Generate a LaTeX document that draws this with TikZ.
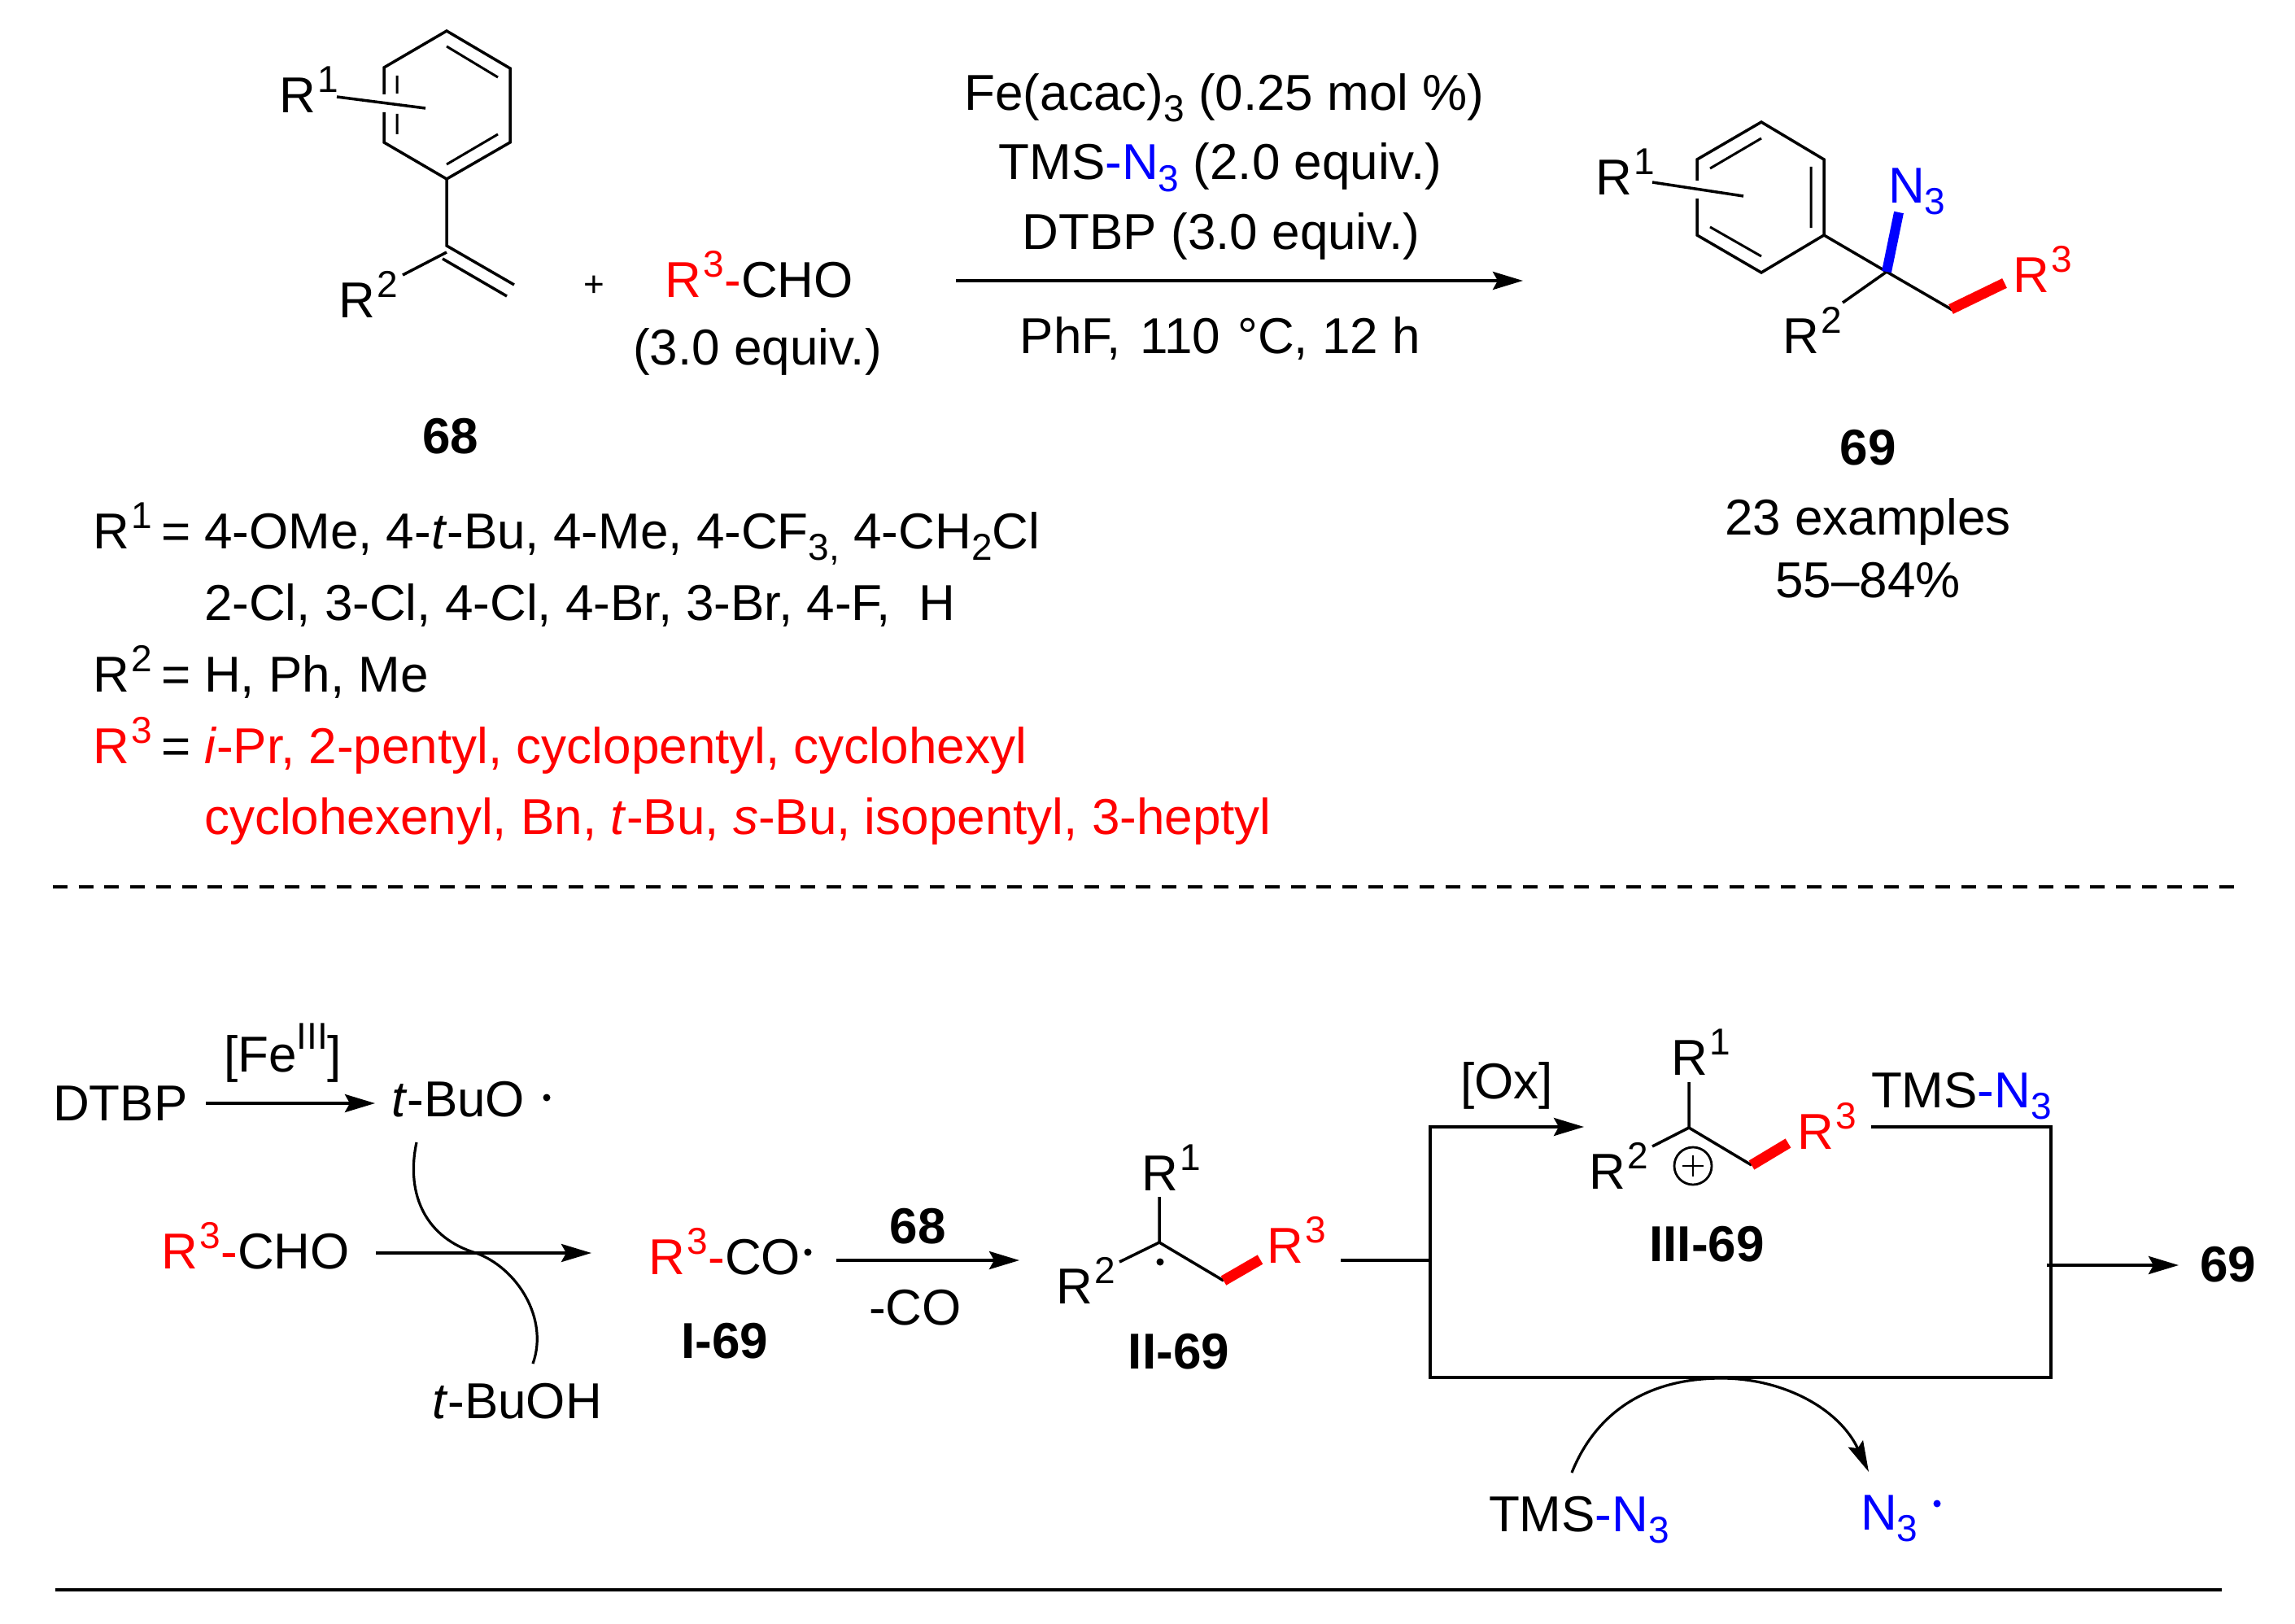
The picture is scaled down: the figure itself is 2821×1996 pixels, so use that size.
\documentclass[tikz,border=0pt]{standalone}
\usepackage{fontspec}
\setmainfont{Liberation Sans}
\usetikzlibrary{arrows.meta}
\definecolor{rd}{HTML}{FF0000}
\definecolor{bl}{HTML}{0000FF}
\newcommand\su[1]{\hspace{3pt}\raisebox{25pt}{\fontsize{46}{46}\selectfont #1}}
\newcommand\sd[1]{\raisebox{-14pt}{\fontsize{46}{46}\selectfont #1}}
\tikzset{
  tw/.style={anchor=base west,inner sep=0pt,outer sep=0pt,font=\fontsize{62}{62}\selectfont},
  tc/.style={anchor=base,inner sep=0pt,outer sep=0pt,font=\fontsize{62}{62}\selectfont},
  tb/.style={anchor=base,inner sep=0pt,outer sep=0pt,font=\fontsize{62}{62}\selectfont\bfseries},
  bond/.style={line width=3.5pt,line join=miter},
  fine/.style={line width=3pt},
  boldred/.style={line width=13pt,draw=rd},
  boldblue/.style={line width=12pt,draw=bl},
  rxn/.style={line width=4pt,-{Stealth[length=37pt,width=22pt,inset=6pt]}},
  plain/.style={line width=4pt},
  curved/.style={line width=3.2pt}
}
\begin{document}
\begin{tikzpicture}[x=1pt,y=-1pt]
\useasboundingbox[fill=white] (0,0) rectangle (2821,1996);
% ---- substrate 68
\draw[bond] (472,138)--(472,175)--(549,220)--(627,175)--(627,84)--(549,38)--(472,83)--(472,116);
\draw[fine] (549,57)--(612,95) (612,165)--(549,202) (488,93)--(488,115) (488,140)--(488,165);
\draw[bond] (414,119)--(523,133);
\draw[bond] (549,220)--(549,302)--(632,350) (623,364)--(544,318) (549,310)--(495,338);
\node[tw] (s1) at (343,139) {R\su{1}};
\node[tw] (s2) at (416,390) {R\su{2}};
\node[tc,font=\fontsize{44}{44}\selectfont] (plus) at (730,364) {+};
\node[tw] (ald) at (817,365) {\textcolor{rd}{R\su{3}-}CHO};
\node[tc] (aldeq) at (931,448) {(3.0 equiv.)};
\node[tb] (c68) at (554,557) {68};
% ---- conditions
\node[tc] (k1) at (1505,136) {Fe(acac)\sd{3} (0.25 mol \%)};
\node[tc] (k2) at (1500,221) {TMS\textcolor{bl}{-N\sd{3}} (2.0 equiv.)};
\node[tc] (k3) at (1501,306) {DTBP (3.0 equiv.)};
\node[tc] (k4) at (1500,434) {PhF, \hspace{6pt}110 \hspace{4pt}°C, 12 h};
\coordinate (a0s) at (1175,345); \coordinate (a0e) at (1872,345);
\draw[rxn] (a0s)--(a0e);
% ---- product 69
\draw[bond] (2086,244)--(2086,289)--(2165,335)--(2242,289)--(2242,196)--(2165,150)--(2086,196)--(2086,222);
\draw[fine] (2165,170)--(2102,207) (2226,205)--(2226,280) (2102,279)--(2165,315);
\draw[bond] (2031,224)--(2143,241);
\draw[bond] (2242,289)--(2319,334)--(2400,381) (2319,334)--(2265,372);
\draw[boldblue] (2319,334)--(2334,261);
\draw[boldred] (2398,380)--(2464,348);
\node[tw] (p1) at (1961,240) {R\su{1}};
\node[tw] (p2) at (2191,434) {R\su{2}};
\node[tw,text=bl] (pn) at (2321,249) {N\sd{3}};
\node[tw,text=rd] (p3) at (2474,359) {R\su{3}};
\node[tb] (c69) at (2296,571) {69};
\node[tc] (ex) at (2296,657) {23 examples};
\node[tc] (yi) at (2296,734) {55–84\%};
% ---- substituent lists
\node[tw] (l1r) at (114,674) {R\su{1}};
\node[tw] (l1q) at (198,674) {=};
\node[tw] (l1t) at (251,674) {4-OMe, 4-\textit{t}-Bu, 4-Me, 4-CF\sd{3,} 4-CH\sd{2}Cl};
\node[tw] (l2t) at (251,762) {2-Cl, 3-Cl, 4-Cl, 4-Br, 3-Br, 4-F,~ H};
\node[tw] (l3r) at (114,850) {R\su{2}};
\node[tw] (l3q) at (198,850) {=};
\node[tw] (l3t) at (251,850) {H, Ph, Me};
\node[tw,text=rd] (l4r) at (114,938) {R\su{3}};
\node[tw] (l4q) at (198,938) {=};
\node[tw,text=rd] (l4t) at (251,938) {\textit{i}-Pr, 2-pentyl, cyclopentyl, cyclohexyl};
\node[tw,text=rd] (l5t) at (251,1025) {cyclohexenyl, Bn, \textit{t}-Bu, \textit{s}-Bu, isopentyl, 3-heptyl};
% ---- separators
\coordinate (d0) at (65,1090); \coordinate (d1) at (2751,1090);
\draw[line width=3.5pt,dash pattern=on 18pt off 13.7pt] (d0)--(d1);
\coordinate (b0) at (68,1954); \coordinate (b1) at (2731,1954);
\draw[line width=4pt] (b0)--(b1);
% ---- mechanism, left
\node[tw] (dtbp) at (65,1377) {DTBP};
\node[tw] (fe) at (275,1317) {[Fe\raisebox{28pt}{\fontsize{46}{46}\selectfont III}]};
\coordinate (a1s) at (253,1356); \coordinate (a1e) at (461,1356);
\draw[rxn] (a1s)--(a1e);
\node[tw] (buo) at (481,1372) {\textit{t}-BuO};
\fill (672,1349) circle (4.5pt);
\coordinate (c0) at (512,1404); \coordinate (cm) at (585,1540); \coordinate (c1) at (655,1676);
\draw[curved] (c0) .. controls (498,1470) and (525,1522) .. (cm) .. controls (635,1558) and (675,1620) .. (c1);
\node[tw] (ch2) at (198,1559) {\textcolor{rd}{R\su{3}-}CHO};
\coordinate (a2s) at (462,1540); \coordinate (a2e) at (727,1540);
\draw[rxn] (a2s)--(a2e);
\node[tw] (buoh) at (531,1743) {\textit{t}-BuOH};
\node[tw] (rco) at (797,1566) {\textcolor{rd}{R\su{3}-}CO};
\fill (993,1539) circle (4.5pt);
\node[tb] (i69) at (891,1669) {I-69};
\node[tb] (t68) at (1128,1528) {68};
\coordinate (a3s) at (1028,1549); \coordinate (a3e) at (1253,1549);
\draw[rxn] (a3s)--(a3e);
\node[tc] (mco) at (1125,1628) {-CO};
% ---- radical II-69
\draw[bond] (1376,1551)--(1425,1527)--(1504,1574) (1425,1527)--(1425,1471);
\draw[boldred] (1504,1574)--(1549,1548);
\fill (1426,1551) circle (4.5pt);
\node[tw] (ii1) at (1403,1463) {R\su{1}};
\node[tw] (ii2) at (1298,1602) {R\su{2}};
\node[tw,text=rd] (ii3) at (1557,1552) {R\su{3}};
\node[tb] (ii69) at (1449,1682) {II-69};
% ---- box
\coordinate (bx0) at (1648,1549); \coordinate (bxl) at (1758,1549);
\coordinate (tl) at (1758,1385); \coordinate (a4e) at (1947,1385);
\coordinate (tr0) at (2300,1385); \coordinate (tr) at (2521,1385);
\coordinate (br) at (2521,1693); \coordinate (bl) at (1758,1693);
\draw[plain] (bx0)--(bxl);
\draw[plain,line cap=rect] (bl)--(tl);
\draw[rxn] (tl)--(a4e);
\draw[plain,line join=miter] (tr0)--(tr)--(br)--(bl);
\node[tw] (ox) at (1795,1350) {[Ox]};
% ---- cation III-69
\draw[bond] (2031,1409)--(2076,1386)--(2153,1432) (2076,1386)--(2076,1330);
\draw[boldred] (2153,1432)--(2198,1405);
\draw[line width=2.8pt] (2081,1433) circle (23pt);
\draw[line width=2.8pt] (2068,1433)--(2094,1433) (2081,1420)--(2081,1446);
\node[tw] (iii1) at (2054,1321) {R\su{1}};
\node[tw] (iii2) at (1953,1461) {R\su{2}};
\node[tw,text=rd] (iii3) at (2209,1412) {R\su{3}};
\node[tb] (iii69) at (2098,1550) {III-69};
\node[tw] (tms1) at (2300,1361) {TMS\textcolor{bl}{-N\sd{3}}};
% ---- out
\coordinate (a5s) at (2516,1555); \coordinate (a5e) at (2678,1555);
\draw[rxn] (a5s)--(a5e);
\node[tw,font=\fontsize{62}{62}\selectfont\bfseries] (o69) at (2704,1575) {69};
% ---- azide arc
\coordinate (z0) at (1932,1810); \coordinate (zm) at (2116,1694); \coordinate (z1) at (2297,1809);
\draw[curved,-{Stealth[length=38pt,width=20pt,inset=6pt]}] (z0) .. controls (1960,1740) and (2020,1694) .. (zm) .. controls (2190,1694) and (2260,1730) .. (z1);
\node[tw] (tms2) at (1830,1882) {TMS\textcolor{bl}{-N\sd{3}}};
\node[tw,text=bl] (n3r) at (2287,1880) {N\sd{3}};
\fill[bl] (2381,1848) circle (4.5pt);
\end{tikzpicture}
\end{document}
